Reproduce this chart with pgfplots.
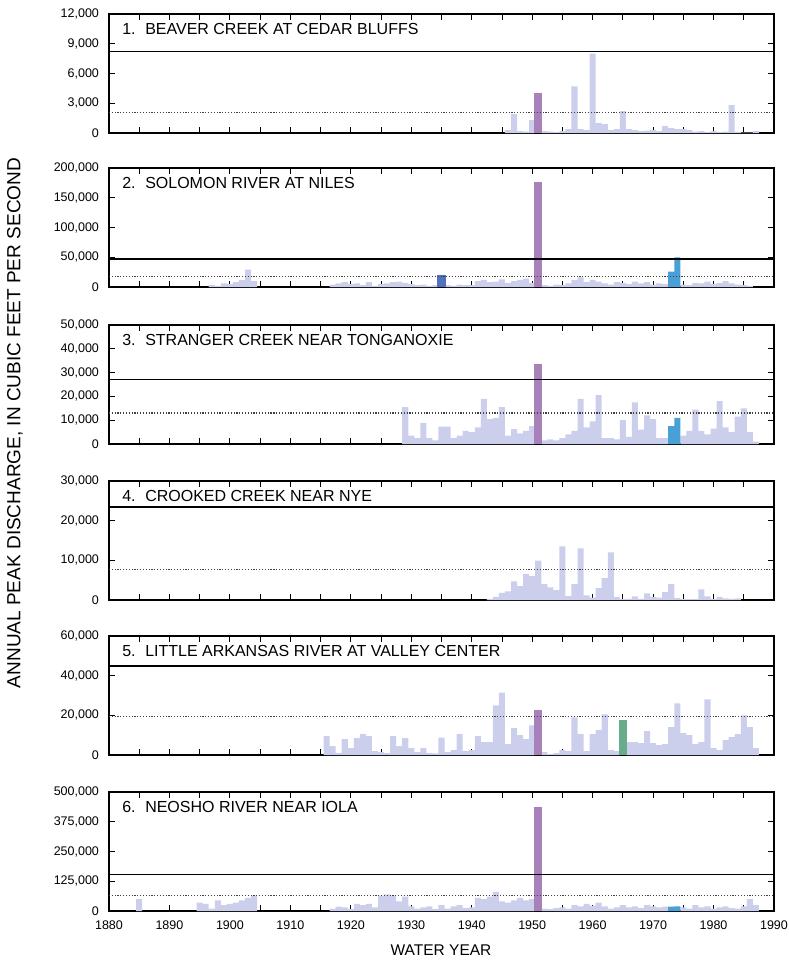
\documentclass[border=0pt]{standalone}
\usepackage{fontspec}
\setmainfont{Liberation Sans}
\usepackage{pgfplots}
\pgfplotsset{compat=1.18}

\definecolor{lightbar}{RGB}{203,207,236}
\definecolor{floodbar}{RGB}{168,128,186}
\definecolor{bluebar}{RGB}{72,160,214}
\definecolor{darkbluebar}{RGB}{82,112,190}
\definecolor{greenbar}{RGB}{104,172,140}

\pgfplotsset{
  panel/.style={
    scale only axis, width=399pt, height=71.4pt,
    anchor=north west,
    xmin=1880, xmax=1990, ymin=0,
    xtick={1880,1890,...,1990}, minor x tick num=1,
    tick align=inside, tick pos=both,
    major tick length=3.6pt, minor tick length=3.6pt,
    tick style={black, line width=0.5pt},
    axis line style={line width=0.8pt},
    /pgf/number format/assume math mode=true,
    ticklabel style={font=\fontsize{7.5}{9}\selectfont},
    yticklabel style={/pgf/number format/fixed, /pgf/number format/precision=0,
      /pgf/number format/1000 sep={,}, xshift=-2.5pt},
    scaled y ticks=false,
  },
  pb/.style={ybar, bar width=1, bar shift=0pt, draw=none, fill=lightbar},
  flood/.style={ybar, bar width=1.4, bar shift=0pt, draw=none, fill=#1},
  solidline/.style={black, line width=0.9pt},
  dotline/.style={black!75, line width=0.7pt, densely dotted},
}
\tikzset{
  ptitle/.style={anchor=north west, inner sep=0pt, xshift=7.8pt, yshift=-5.2pt,
    font=\fontsize{9.6}{11}\selectfont},
}

\begin{document}
\begin{tikzpicture}

% 1. Beaver Creek
\begin{axis}[panel, at={(0pt,0pt)}, ymax=12000, ytick={0,3000,...,12000}, xticklabels={}]
\addplot[pb] table[row sep=\\] {
x y\\
1946 300\\ 1947 1900\\ 1948 200\\ 1949 150\\ 1950 1300\\ 1952 200\\ 1953 150\\
1954 100\\ 1955 200\\ 1956 400\\ 1957 4700\\ 1958 400\\ 1959 300\\ 1960 8000\\
1961 1000\\ 1962 900\\ 1963 300\\ 1964 400\\ 1965 2200\\ 1966 400\\ 1967 300\\
1968 200\\ 1969 250\\ 1970 300\\ 1971 200\\ 1972 700\\ 1973 500\\ 1974 400\\
1975 400\\ 1976 300\\ 1977 150\\ 1978 200\\ 1979 100\\ 1980 200\\ 1981 100\\
1982 150\\ 1983 2800\\ 1984 100\\ 1985 50\\ 1986 50\\ 1987 200\\
};
\addplot[flood=floodbar] coordinates {(1951,4000)};
\addplot[solidline] coordinates {(1880,8200) (1990,8200)};
\addplot[dotline] coordinates {(1880,2100) (1990,2100)};
\node[ptitle] at (rel axis cs:0,1) {1.\hspace{0.6em}BEAVER CREEK AT CEDAR BLUFFS};
\end{axis}

% 2. Solomon River
\begin{axis}[panel, at={(0pt,-92.4pt)}, ymax=200000, ytick={0,50000,...,200000}, xticklabels={}]
\addplot[pb] table[row sep=\\] {
x y\\
1897 3000\\ 1898 2000\\ 1899 6000\\ 1900 5000\\ 1901 8000\\ 1902 12000\\ 1903 29000\\ 1904 10000\\
1917 4000\\ 1918 6000\\ 1919 8000\\ 1920 5000\\ 1921 6000\\ 1922 3000\\ 1923 8000\\
1924 2000\\ 1925 5000\\ 1926 6000\\ 1927 8000\\ 1928 9000\\ 1929 7000\\ 1930 5000\\
1931 3000\\ 1932 4000\\ 1933 2000\\ 1934 3000\\ 1936 3000\\ 1937 2000\\ 1938 4000\\
1939 3000\\ 1940 3000\\ 1941 10000\\ 1942 12000\\ 1943 8000\\ 1944 9000\\ 1945 13000\\
1946 7000\\ 1947 10000\\ 1948 12000\\ 1949 14000\\ 1950 7000\\ 1952 3000\\ 1953 2000\\
1954 4000\\ 1955 3000\\ 1956 6000\\ 1957 12000\\ 1958 16000\\ 1959 8000\\ 1960 12000\\
1961 9000\\ 1962 6000\\ 1963 4000\\ 1964 8000\\ 1965 7000\\ 1966 5000\\ 1967 9000\\
1968 6000\\ 1969 8000\\ 1970 4000\\ 1971 6000\\ 1972 5000\\ 1975 4000\\ 1976 3000\\
1977 7000\\ 1978 6000\\ 1979 9000\\ 1980 5000\\ 1981 7000\\ 1982 10000\\ 1983 6000\\
1984 4000\\ 1985 3000\\ 1986 2000\\
};
\addplot[flood=darkbluebar] coordinates {(1935,20000)};
\addplot[flood=floodbar] coordinates {(1951,176000)};
\addplot[pb, fill=bluebar] coordinates {(1973,26000) (1974,50000)};
\addplot[solidline] coordinates {(1880,47000) (1990,47000)};
\addplot[dotline] coordinates {(1880,18000) (1990,18000)};
\node[ptitle] at (rel axis cs:0,1) {2.\hspace{0.6em}SOLOMON RIVER AT NILES};
\end{axis}

% 3. Stranger Creek
\begin{axis}[panel, at={(0pt,-186.6pt)}, ymax=50000, ytick={0,10000,...,50000}, xticklabels={}]
\addplot[pb] table[row sep=\\] {
x y\\
1929 15500\\ 1930 3500\\ 1931 2500\\ 1932 8800\\ 1933 2500\\ 1934 1500\\ 1935 7300\\
1936 7300\\ 1937 2500\\ 1938 3500\\ 1939 5500\\ 1940 5000\\ 1941 7000\\ 1942 19000\\
1943 10500\\ 1944 11000\\ 1945 15500\\ 1946 3500\\ 1947 6300\\ 1948 4500\\ 1949 5500\\
1950 7500\\ 1952 1500\\ 1953 2000\\ 1954 1500\\ 1955 2500\\ 1956 4000\\ 1957 5500\\
1958 19000\\ 1959 7000\\ 1960 9500\\ 1961 20500\\ 1962 2500\\ 1963 2500\\ 1964 2000\\
1965 10000\\ 1966 3000\\ 1967 17500\\ 1968 6000\\ 1969 12000\\ 1970 10500\\ 1971 2500\\
1972 2500\\ 1975 3500\\ 1976 5500\\ 1977 14500\\ 1978 5500\\ 1979 4000\\ 1980 6500\\
1981 18000\\ 1982 7000\\ 1983 5000\\ 1984 11500\\ 1985 15000\\ 1986 5000\\ 1987 1000\\
};
\addplot[flood=floodbar] coordinates {(1951,33500)};
\addplot[pb, fill=bluebar] coordinates {(1973,7500) (1974,11000)};
\addplot[solidline] coordinates {(1880,27000) (1990,27000)};
\addplot[dotline] coordinates {(1880,13000) (1990,13000)};
\node[ptitle] at (rel axis cs:0,1) {3.\hspace{0.6em}STRANGER CREEK NEAR TONGANOXIE};
\end{axis}

% 4. Crooked Creek
\begin{axis}[panel, at={(0pt,-280.2pt)}, ymax=30000, ytick={0,10000,20000,30000}, xticklabels={}]
\addplot[pb] table[row sep=\\] {
x y\\
1943 300\\ 1944 800\\ 1945 1800\\ 1946 2200\\ 1947 4700\\ 1948 3500\\ 1949 6500\\
1950 6000\\ 1951 9900\\ 1952 4000\\ 1953 3200\\ 1954 2500\\ 1955 13500\\ 1956 1000\\
1957 4000\\ 1958 13000\\ 1959 1200\\ 1960 600\\ 1961 3000\\ 1962 5500\\ 1963 12000\\
1964 700\\ 1965 300\\ 1966 300\\ 1967 900\\ 1968 300\\ 1969 1700\\ 1970 800\\
1971 600\\ 1972 2000\\ 1973 4000\\ 1974 500\\ 1975 300\\ 1976 200\\ 1977 300\\
1978 2700\\ 1979 900\\ 1980 300\\ 1981 800\\ 1982 400\\ 1983 300\\ 1984 400\\
};
\addplot[solidline] coordinates {(1880,23500) (1990,23500)};
\addplot[dotline] coordinates {(1880,7700) (1990,7700)};
\node[ptitle] at (rel axis cs:0,1) {4.\hspace{0.6em}CROOKED CREEK NEAR NYE};
\end{axis}

% 5. Little Arkansas River
\begin{axis}[panel, at={(0pt,-373.2pt)}, ymax=60000, ytick={0,20000,40000,60000}, xticklabels={}]
\addplot[pb] table[row sep=\\] {
x y\\
1916 9500\\ 1917 4500\\ 1918 1000\\ 1919 8000\\ 1920 3500\\ 1921 8500\\ 1922 10500\\
1923 9500\\ 1924 2000\\ 1925 1500\\ 1926 1000\\ 1927 9500\\ 1928 4500\\ 1929 8500\\
1930 3500\\ 1931 1500\\ 1932 3500\\ 1933 1000\\ 1934 800\\ 1935 8800\\ 1936 1500\\
1937 2500\\ 1938 10500\\ 1939 2000\\ 1940 2500\\ 1941 9500\\ 1942 6500\\ 1943 6500\\
1944 25000\\ 1945 31500\\ 1946 5500\\ 1947 13500\\ 1948 10000\\ 1949 8000\\ 1950 15000\\
1952 1500\\ 1953 500\\ 1954 1000\\ 1955 2500\\ 1956 2000\\ 1957 19000\\ 1958 10500\\
1959 2000\\ 1960 10500\\ 1961 12500\\ 1962 20500\\ 1963 2500\\ 1964 2000\\ 1966 6500\\
1967 6500\\ 1968 6000\\ 1969 12000\\ 1970 6000\\ 1971 5000\\ 1972 5500\\ 1973 14000\\
1974 26000\\ 1975 11000\\ 1976 10000\\ 1977 5500\\ 1978 6500\\ 1979 28000\\ 1980 3500\\
1981 2500\\ 1982 7500\\ 1983 9000\\ 1984 10500\\ 1985 20000\\ 1986 14000\\ 1987 3500\\
};
\addplot[flood=floodbar] coordinates {(1951,22500)};
\addplot[flood=greenbar] coordinates {(1965,17500)};
\addplot[solidline] coordinates {(1880,45000) (1990,45000)};
\addplot[dotline] coordinates {(1880,19500) (1990,19500)};
\node[ptitle] at (rel axis cs:0,1) {5.\hspace{0.6em}LITTLE ARKANSAS RIVER AT VALLEY CENTER};
\end{axis}

% 6. Neosho River
\begin{axis}[panel, at={(0pt,-466.8pt)}, ymax=500000, ytick={0,125000,250000,375000,500000},
  xticklabel style={/pgf/number format/1000 sep={}, yshift=-2.5pt}]
\addplot[pb] table[row sep=\\] {
x y\\
1885 50000\\ 1895 35000\\ 1896 30000\\ 1897 10000\\ 1898 45000\\ 1899 25000\\ 1900 30000\\
1901 35000\\ 1902 45000\\ 1903 55000\\ 1904 65000\\ 1917 10000\\ 1918 18000\\ 1919 15000\\
1920 8000\\ 1921 30000\\ 1922 25000\\ 1923 30000\\ 1924 15000\\ 1925 65000\\ 1926 70000\\
1927 65000\\ 1928 40000\\ 1929 60000\\ 1930 20000\\ 1931 10000\\ 1932 15000\\ 1933 20000\\
1934 8000\\ 1935 25000\\ 1936 10000\\ 1937 20000\\ 1938 25000\\ 1939 12000\\ 1940 15000\\
1941 55000\\ 1942 50000\\ 1943 60000\\ 1944 80000\\ 1945 40000\\ 1946 35000\\ 1947 45000\\
1948 55000\\ 1949 45000\\ 1950 50000\\ 1952 10000\\ 1953 8000\\ 1954 12000\\ 1955 15000\\
1956 10000\\ 1957 25000\\ 1958 20000\\ 1959 30000\\ 1960 22000\\ 1961 35000\\ 1962 20000\\
1963 10000\\ 1964 15000\\ 1965 25000\\ 1966 15000\\ 1967 20000\\ 1968 12000\\ 1969 25000\\
1970 20000\\ 1971 15000\\ 1972 18000\\ 1975 15000\\ 1976 10000\\ 1977 25000\\ 1978 15000\\
1979 20000\\ 1980 10000\\ 1981 15000\\ 1982 20000\\ 1983 12000\\ 1984 10000\\ 1985 20000\\
1986 50000\\ 1987 25000\\
};
\addplot[flood=floodbar] coordinates {(1951,435000)};
\addplot[pb, fill=bluebar] coordinates {(1973,18000) (1974,20000)};
\addplot[solidline] coordinates {(1880,153000) (1990,153000)};
\addplot[dotline] coordinates {(1880,66000) (1990,66000)};
\node[ptitle] at (rel axis cs:0,1) {6.\hspace{0.6em}NEOSHO RIVER NEAR IOLA};
\end{axis}

\node[rotate=90, font=\fontsize{11.4}{13}\selectfont] at (-56.4pt,-245.4pt)
  {ANNUAL PEAK DISCHARGE, IN CUBIC FEET PER SECOND};
\node[font=\fontsize{9.3}{11}\selectfont] at (199.2pt,-561.6pt) {WATER YEAR};

\pgfresetboundingbox
\path[use as bounding box] (-65.4pt,8.4pt) rectangle (408pt,-567.6pt);
\end{tikzpicture}
\end{document}
